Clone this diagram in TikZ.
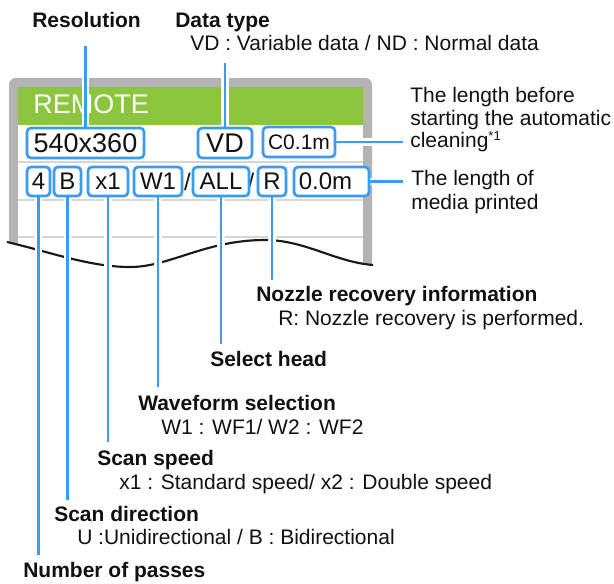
\documentclass[tikz,border=0pt]{standalone}
\usepackage{fontspec}
\setmainfont{Liberation Sans}
\definecolor{lblue}{HTML}{3A9BF5}
\definecolor{framegray}{HTML}{B3B3B3}
\definecolor{hdrgreen}{HTML}{8CC63F}
\definecolor{sepgray}{HTML}{D6D6D6}
\definecolor{txt}{HTML}{111111}
\pgfdeclarelayer{background}
\pgfsetlayers{background,main}
\begin{document}
\begin{tikzpicture}[x=0.75pt,y=-0.75pt,
  conn/.style={draw=lblue, line width=2.2pt, preaction={draw=white, line width=5.5pt}},
  field/.style={draw=lblue, fill=white, line width=2pt, rounded corners=3pt, inner sep=0pt, text=txt},
  bigf/.style={font=\fontsize{20.25}{24}\selectfont},
  midf/.style={font=\fontsize{18}{21}\selectfont},
  smf/.style={font=\fontsize{15.75}{18}\selectfont},
  lbl/.style={anchor=base west, inner sep=0pt, text=txt, font=\fontsize{15.75}{18}\selectfont},
  ttl/.style={anchor=base west, inner sep=0pt, text=txt, font=\bfseries\fontsize{15.75}{18}\selectfont}]
\useasboundingbox (0,0) rectangle (614,583);

% boxes (main layer, on top)
\path
  node[field, bigf, minimum width=87.75pt, minimum height=22.5pt] (res) at (85.5,143) {540x360}
  node[field, bigf, minimum width=40.5pt, minimum height=22.5pt] (vd) at (225,143) {VD}
  node[field, smf, minimum width=54pt, minimum height=22.5pt] (c01) at (299,142) {C0.1m}
  node[field, midf, minimum width=17.25pt, minimum height=21.75pt] (n4) at (38.5,181.5) {4}
  node[field, midf, minimum width=20.25pt, minimum height=21.75pt] (b) at (67.5,181.5) {B}
  node[field, midf, minimum width=30pt, minimum height=21.75pt] (x1) at (108,181.5) {x1}
  node[field, midf, minimum width=36pt, minimum height=21.75pt] (w1) at (158,181.5) {W1}
  node[field, midf, minimum width=42pt, minimum height=21.75pt] (all) at (221,181.5) {ALL}
  node[field, midf, minimum width=21pt, minimum height=21.75pt] (r) at (272,181.5) {R}
  node[field, midf, minimum width=56.25pt, minimum height=21.75pt] (len) at (331.5,181.5) {0.0m\hspace*{9pt}};

% coordinates for free ends
\coordinate (resTop) at (85.5,46);
\coordinate (vdTop) at (225,63);
\coordinate (c01End) at (403,142);
\coordinate (lenEnd) at (403,181.5);
\coordinate (n4End) at (38.5,555);
\coordinate (bEnd) at (67.5,500);
\coordinate (x1End) at (108,442);
\coordinate (w1End) at (158,387);
\coordinate (allEnd) at (221,344);
\coordinate (rEnd) at (272,280);

\begin{pgfonlayer}{background}
% frame
\fill[framegray, rounded corners=5pt] (9,300) -- (9,78) -- (372,78) -- (372,300);
\fill[white] (18,87) rectangle (363,300);
\fill[hdrgreen] (18,87) rectangle (363,125);
\draw[sepgray, line width=0.9pt] (18,162) -- (363,162);
\draw[sepgray, line width=0.9pt] (18,200) -- (363,200);
\draw[sepgray, line width=0.9pt] (18,237) -- (363,237);
% cut-away wave
\fill[white] (7,242) .. controls (50,252) and (90,267) .. (130,267)
  .. controls (170,267) and (205,240) .. (265,240)
  .. controls (305,240) and (335,262) .. (373,265) -- (380,310) -- (0,310) -- cycle;
\draw[black!90, line width=1.6pt] (7,242) .. controls (50,252) and (90,267) .. (130,267)
  .. controls (170,267) and (205,240) .. (265,240)
  .. controls (305,240) and (335,262) .. (373,265);
\node[anchor=base west, inner sep=0pt, text=white, font=\fontsize{20.25}{24}\selectfont] (remote) at (33,113) {REMOTE};
% ghost separators of the screen row
\node[inner sep=0pt, text=txt, midf] (sl1) at (187.5,182) {/};
\node[inner sep=0pt, text=txt, midf] (sl2) at (251,182) {/};
% connectors
\draw[conn] (resTop) -- (res.north);
\draw[conn] (vdTop) -- (vd.north);
\draw[conn] (c01.east) -- (c01End);
\draw[conn] (len.east) -- (lenEnd);
\draw[conn] (n4.south) -- (n4End);
\draw[conn] (b.south) -- (bEnd);
\draw[conn] (x1.south) -- (x1End);
\draw[conn] (w1.south) -- (w1End);
\draw[conn] (all.south) -- (allEnd);
\draw[conn] (r.south) -- (rEnd);
\end{pgfonlayer}

% labels
\node[ttl] (tRes) at (32,27.5) {Resolution};
\node[ttl] (tData) at (175,27.5) {Data type};
\node[lbl] (dData) at (190,50.5) {VD : Variable data / ND : Normal data};
\node[lbl] (tC1) at (410,102.5) {The length before};
\node[lbl] (tC2) at (410,125.5) {starting the automatic};
\node[lbl] (tC3) at (410,147.5) {cleaning\raisebox{5.6pt}{\fontsize{9.75}{10}\selectfont *1}};
\node[lbl] (tL1) at (411,185.5) {The length of};
\node[lbl] (tL2) at (411,209.5) {media printed};
\node[ttl] (tNoz) at (256,301.5) {Nozzle recovery information};
\node[lbl] (dNoz) at (278,325.5) {R: Nozzle recovery is performed.};
\node[ttl] (tSel) at (210,366.5) {Select head};
\node[ttl] (tWav) at (138,410.5) {Waveform selection};
\node[lbl] (dWav) at (161,434.5) {W1 : WF1/ W2 : WF2};
\node[ttl] (tSpd) at (97,465.5) {Scan speed};
\node[lbl] (dSpd) at (119,489.5) {x1 : Standard speed/ x2 : Double speed};
\node[ttl] (tDir) at (54,521.5) {Scan direction};
\node[lbl] (dDir) at (77,544.5) {U :Unidirectional / B : Bidirectional};
\node[ttl] (tPass) at (23,577.5) {Number of passes};
\end{tikzpicture}
\end{document}
